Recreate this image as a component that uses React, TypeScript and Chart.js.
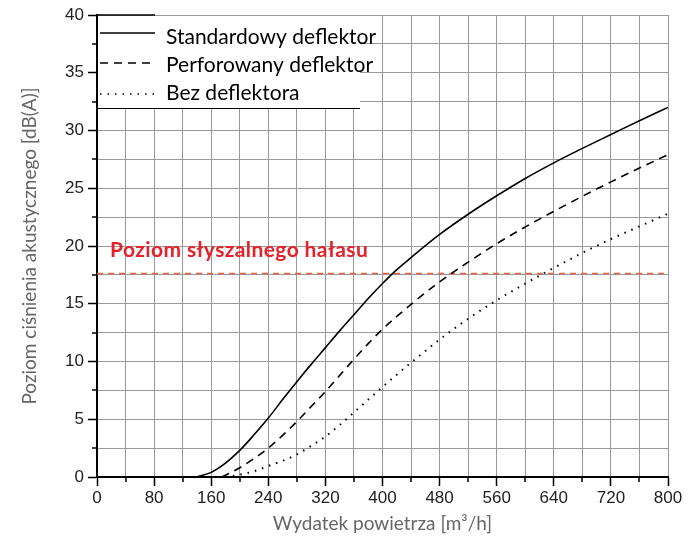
import React, { useEffect, useRef } from "react";
import { Chart, registerables } from "chart.js";

Chart.register(...registerables);

const solidX = [140, 160, 180, 200, 220, 240, 260, 280, 300, 320, 340, 360, 380, 400, 420, 440, 480, 520, 560, 600, 640, 680, 720, 760, 800];
const solidY = [0, 0.4, 1.2, 2.3, 3.65, 5.1, 6.7, 8.25, 9.75, 11.2, 12.65, 14.05, 15.45, 16.75, 17.95, 19.0, 21.0, 22.75, 24.35, 25.85, 27.2, 28.45, 29.65, 30.85, 32.0];

const dashedX = [175, 200, 220, 240, 260, 280, 300, 320, 340, 360, 380, 400, 420, 440, 480, 520, 560, 600, 640, 680, 720, 760, 800];
const dashedY = [0, 0.8, 1.6, 2.5, 3.6, 4.8, 6.1, 7.4, 8.8, 10.2, 11.55, 12.8, 13.9, 14.95, 16.9, 18.6, 20.2, 21.65, 23.0, 24.3, 25.55, 26.75, 27.9];

const dottedX = [180, 200, 220, 240, 260, 280, 300, 320, 340, 360, 380, 400, 440, 480, 520, 560, 600, 640, 680, 720, 760, 800];
const dottedY = [0, 0.2, 0.5, 0.95, 1.4, 1.95, 2.7, 3.5, 4.5, 5.6, 6.7, 7.8, 9.9, 11.9, 13.7, 15.3, 16.75, 18.1, 19.4, 20.6, 21.7, 22.8];

const seriesNames = ["Standardowy deflektor", "Perforowany deflektor", "Bez deflektora"];
const thresholdValue = 17.5;
const thresholdLabel = "Poziom słyszalnego hałasu";
const xTitle = "Wydatek powietrza [m³/h]";
const yTitle = "Poziom ciśnienia akustycznego [dB(A)]";

const dashes: number[][] = [[], [8, 6], [1.5, 6]];

function pts(xs: number[], ys: number[]) {
  return xs.map((x, i) => ({ x, y: ys[i] }));
}

const overlayPlugin = {
  id: "overlay",
  beforeDatasetsDraw(chart: any) {
    const { ctx, chartArea, scales } = chart;
    const y = scales.y.getPixelForValue(thresholdValue) - 1.5;
    ctx.save();
    ctx.strokeStyle = "#e8603c";
    ctx.lineWidth = 1.5;
    ctx.setLineDash([6, 5]);
    ctx.beginPath();
    ctx.moveTo(chartArea.left, y);
    ctx.lineTo(chartArea.right, y);
    ctx.stroke();
    ctx.setLineDash([]);
    ctx.fillStyle = "#e62129";
    ctx.font = "bold 21px Lato";
    try {
      (ctx as any).letterSpacing = "0.4px";
    } catch (e) {}
    ctx.textBaseline = "middle";
    ctx.textAlign = "left";
    ctx.fillText(thresholdLabel, chartArea.left + 13, y - 23);
    ctx.restore();
  },
  afterDraw(chart: any) {
    const { ctx, chartArea, scales } = chart;
    ctx.save();
    // minor ticks
    ctx.strokeStyle = "#000";
    ctx.lineWidth = 1.5;
    for (let v = 40; v < 800; v += 80) {
      const px = Math.round(scales.x.getPixelForValue(v));
      ctx.beginPath();
      ctx.moveTo(px, chartArea.bottom);
      ctx.lineTo(px, chartArea.bottom + 5);
      ctx.stroke();
    }
    for (let v = 2.5; v < 40; v += 5) {
      const py = Math.round(scales.y.getPixelForValue(v));
      ctx.beginPath();
      ctx.moveTo(chartArea.left, py);
      ctx.lineTo(chartArea.left - 5, py);
      ctx.stroke();
    }
    // legend box
    const left = chartArea.left + 1;
    const top = chartArea.top;
    const right = 360;
    const bottom = 108;
    ctx.fillStyle = "#fff";
    ctx.fillRect(left, top + 1, right - left, bottom - top - 1);
    ctx.strokeStyle = "#000";
    ctx.lineWidth = 1;
    ctx.beginPath();
    ctx.moveTo(left, bottom + 0.5);
    ctx.lineTo(right, bottom + 0.5);
    ctx.stroke();
    ctx.lineWidth = 1.5;
    ctx.beginPath();
    ctx.moveTo(left, top);
    ctx.lineTo(155, top);
    ctx.stroke();
    const ys = [33, 63, 94];
    const ty = [37, 65, 93];
    ctx.font = "21px Lato";
    ctx.textBaseline = "middle";
    ctx.textAlign = "left";
    for (let i = 0; i < 3; i++) {
      ctx.strokeStyle = "#000";
      ctx.lineWidth = 1.5;
      ctx.setLineDash(dashes[i]);
      ctx.beginPath();
      ctx.moveTo(100, ys[i]);
      ctx.lineTo(155, ys[i]);
      ctx.stroke();
      ctx.setLineDash([]);
      ctx.fillStyle = "#000";
      ctx.fillText(seriesNames[i], 166, ty[i]);
    }
    ctx.restore();
  },
};

export default function App() {
  const ref = useRef<HTMLCanvasElement | null>(null);
  useEffect(() => {
    document.body.style.margin = "0";
    const canvas = ref.current;
    if (!canvas) return;
    const datasets = [
      { label: seriesNames[0], data: pts(solidX, solidY) },
      { label: seriesNames[1], data: pts(dashedX, dashedY) },
      { label: seriesNames[2], data: pts(dottedX, dottedY) },
    ].map((d, i) => ({
      ...d,
      borderColor: "#000",
      borderWidth: i === 2 ? 2 : 1.6,
      borderDash: dashes[i],
      pointRadius: 0,
      fill: false,
      cubicInterpolationMode: "monotone" as const,
    }));
    const chart = new Chart(canvas, {
      type: "line",
      data: { datasets },
      plugins: [overlayPlugin],
      options: {
        animation: false,
        responsive: false,
        maintainAspectRatio: false,
        layout: { padding: { left: 0, top: 15, right: 32, bottom: 0 } },
        plugins: { legend: { display: false }, tooltip: { enabled: false } },
        scales: {
          x: {
            type: "linear",
            min: 0,
            max: 800,
            afterFit: (s: any) => {
              s.height = 71;
            },
            ticks: {
              stepSize: 40,
              autoSkip: false,
              maxRotation: 0,
              padding: 2,
              color: "#222",
              font: { family: "Liberation Sans", size: 17 },
              callback: (v: any) => (Number(v) % 80 === 0 ? String(v) : ""),
            },
            grid: {
              color: "#999",
              lineWidth: 1,
              tickLength: 9,
              tickWidth: 1.5,
              tickColor: (c: any) => (c.tick && Number(c.tick.value) % 80 === 0 ? "#000" : "rgba(0,0,0,0)"),
            },
            border: { color: "#000", width: 2 },
            title: {
              display: true,
              text: xTitle,
              color: "#666",
              font: { family: "Lato", size: 19 },
              padding: { top: 2, bottom: 13 },
            },
          },
          y: {
            type: "linear",
            min: 0,
            max: 40,
            afterFit: (s: any) => {
              s.width = 97;
            },
            ticks: {
              stepSize: 2.5,
              autoSkip: false,
              padding: 4,
              color: "#222",
              font: { family: "Liberation Sans", size: 17 },
              callback: (v: any) => (Number(v) % 5 === 0 ? String(v) : ""),
            },
            grid: {
              color: "#999",
              lineWidth: 1,
              tickLength: 9,
              tickWidth: 1.5,
              tickColor: (c: any) => (c.tick && Number(c.tick.value) % 5 === 0 ? "#000" : "rgba(0,0,0,0)"),
            },
            border: { color: "#000", width: 2 },
            title: {
              display: true,
              text: yTitle,
              color: "#666",
              font: { family: "Lato", size: 19 },
              padding: { top: 18, bottom: 8 },
            },
          },
        },
      },
    });
    return () => chart.destroy();
  }, []);
  return (
    <div style={{ width: 700, height: 548, background: "#fff" }}>
      <canvas ref={ref} width={700} height={548} style={{ display: "block" }} />
    </div>
  );
}
